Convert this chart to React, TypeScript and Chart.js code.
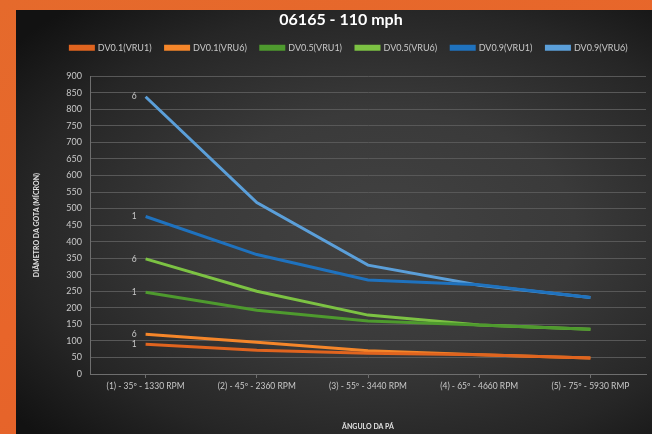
import React, { useEffect, useRef } from "react";
import { Chart, registerables } from "chart.js";

Chart.register(...registerables);

const categories = [
  "(1) - 35º - 1330 RPM",
  "(2) - 45º - 2360 RPM",
  "(3) - 55º - 3440 RPM",
  "(4) - 65º - 4660 RPM",
  "(5) - 75º - 5930 RMP",
];

const seriesNames = ["DV0.1(VRU1)", "DV0.1(VRU6)", "DV0.5(VRU1)", "DV0.5(VRU6)", "DV0.9(VRU1)", "DV0.9(VRU6)"];
const seriesTags = ["1", "6", "1", "6", "1", "6"];
const seriesColors = ["#E0641F", "#F5862A", "#4E9A2E", "#7CC243", "#1F72BE", "#5B9FD9"];

const dv01Vru1 = [90, 72, 63, 58, 48];
const dv01Vru6 = [120, 96, 70, 58, 48];
const dv05Vru1 = [247, 193, 160, 148, 135];
const dv05Vru6 = [348, 250, 178, 148, 135];
const dv09Vru1 = [476, 361, 284, 270, 231];
const dv09Vru6 = [838, 518, 329, 268, 231];

const seriesValues = [dv01Vru1, dv01Vru6, dv05Vru1, dv05Vru6, dv09Vru1, dv09Vru6];

const FONT = "Lato, 'Open Sans', sans-serif";

const tagPlugin = {
  id: "seriesTags",
  afterDatasetsDraw(chart: any) {
    const ctx = chart.ctx;
    ctx.save();
    ctx.fillStyle = "#c8c8c8";
    ctx.font = `8.5px ${FONT}`;
    ctx.textAlign = "right";
    ctx.textBaseline = "middle";
    chart.data.datasets.forEach((_ds: any, i: number) => {
      const meta = chart.getDatasetMeta(i);
      const pt = meta.data[0];
      if (pt) ctx.fillText(seriesTags[i], pt.x - 9, pt.y);
    });
    ctx.restore();
  },
};

// adds empty room below the legend row and nudges title/legend to the right
const legendGapPlugin = {
  id: "legendGap",
  beforeLayout(chart: any) {
    const lg = chart.legend;
    if (lg && !lg.__gapPatched) {
      const orig = lg.fit.bind(lg);
      lg.fit = function () {
        orig();
        this.height += 14;
      };
      lg.__gapPatched = true;
    }
  },
  afterLayout(chart: any) {
    const lg = chart.legend;
    if (lg) {
      lg.left += 18;
      lg.right += 18;
    }
    const tb = chart.titleBlock;
    if (tb) {
      tb.left += 10;
      tb.right += 10;
    }
  },
};

export default function App() {
  const ref = useRef<HTMLCanvasElement | null>(null);

  useEffect(() => {
    if (!ref.current) return;
    const chart = new Chart(ref.current, {
      type: "line",
      data: {
        labels: categories,
        datasets: seriesNames.map((name, i) => ({
          label: name,
          data: seriesValues[i],
          borderColor: seriesColors[i],
          backgroundColor: seriesColors[i],
          borderWidth: 3,
          pointRadius: 0,
          tension: 0,
        })),
      },
      plugins: [tagPlugin, legendGapPlugin],
      options: {
        animation: false,
        responsive: false,
        devicePixelRatio: 1,
        layout: { padding: { left: 0, right: 6, top: 0, bottom: 0 } },
        plugins: {
          title: {
            display: true,
            text: "06165 - 110 mph",
            color: "#ffffff",
            font: { family: FONT, size: 16, weight: "bold" },
            padding: { top: 0, bottom: 0 },
          },
          legend: {
            display: true,
            labels: {
              color: "#c8c8c8",
              font: { family: FONT, size: 9 },
              boxWidth: 23,
              boxHeight: 3,
              padding: 14,
            },
          },
          tooltip: { enabled: false },
        },
        scales: {
          x: {
            offset: true,
            grid: {
              display: true,
              offset: false,
              drawOnChartArea: false,
              drawTicks: true,
              tickLength: 4,
              color: "#6e6e6e",
            },
            border: { display: true, color: "#6e6e6e", width: 1 },
            ticks: {
              color: "#c8c8c8",
              font: { family: FONT, size: 8.5 },
              maxRotation: 0,
              autoSkip: false,
              padding: 3,
            },
            title: {
              display: true,
              text: "ÂNGULO DA PÁ",
              color: "#e0e0e0",
              font: { family: FONT, size: 7, weight: "bold" },
              padding: { top: 0, bottom: 3 },
            },
            afterFit(scale: any) {
              scale.height = 60;
            },
          },
          y: {
            min: 0,
            max: 900,
            ticks: {
              stepSize: 50,
              color: "#c8c8c8",
              font: { family: FONT, size: 9 },
              padding: 8,
            },
            grid: {
              color: "#585858",
              lineWidth: 1,
              drawTicks: false,
            },
            border: { display: true, color: "#6e6e6e", width: 1 },
            title: {
              display: true,
              text: "DIÂMETRO DA GOTA (MÍCRON)",
              color: "#e0e0e0",
              font: { family: FONT, size: 7, weight: "bold" },
              padding: { top: 17, bottom: 0 },
            },
            afterFit(scale: any) {
              scale.width = 74;
            },
          },
        },
      },
    });
    return () => chart.destroy();
  }, []);

  return (
    <div
      style={{
        position: "fixed",
        left: 0,
        top: 0,
        width: 652,
        height: 434,
        background: "linear-gradient(160deg, #e56a2c 0%, #e8652a 50%, #e0612a 100%)",
        overflow: "hidden",
      }}
    >
      <div
        style={{
          position: "absolute",
          left: 16,
          top: 10,
          width: 636,
          height: 424,
          background:
            "radial-gradient(ellipse 75% 70% at 58% 52%, #424242 0%, #3a3a3a 40%, #262626 75%, #121212 100%)",
        }}
      >
        <canvas ref={ref} width={636} height={424} style={{ display: "block", width: 636, height: 424 }} />
      </div>
    </div>
  );
}
